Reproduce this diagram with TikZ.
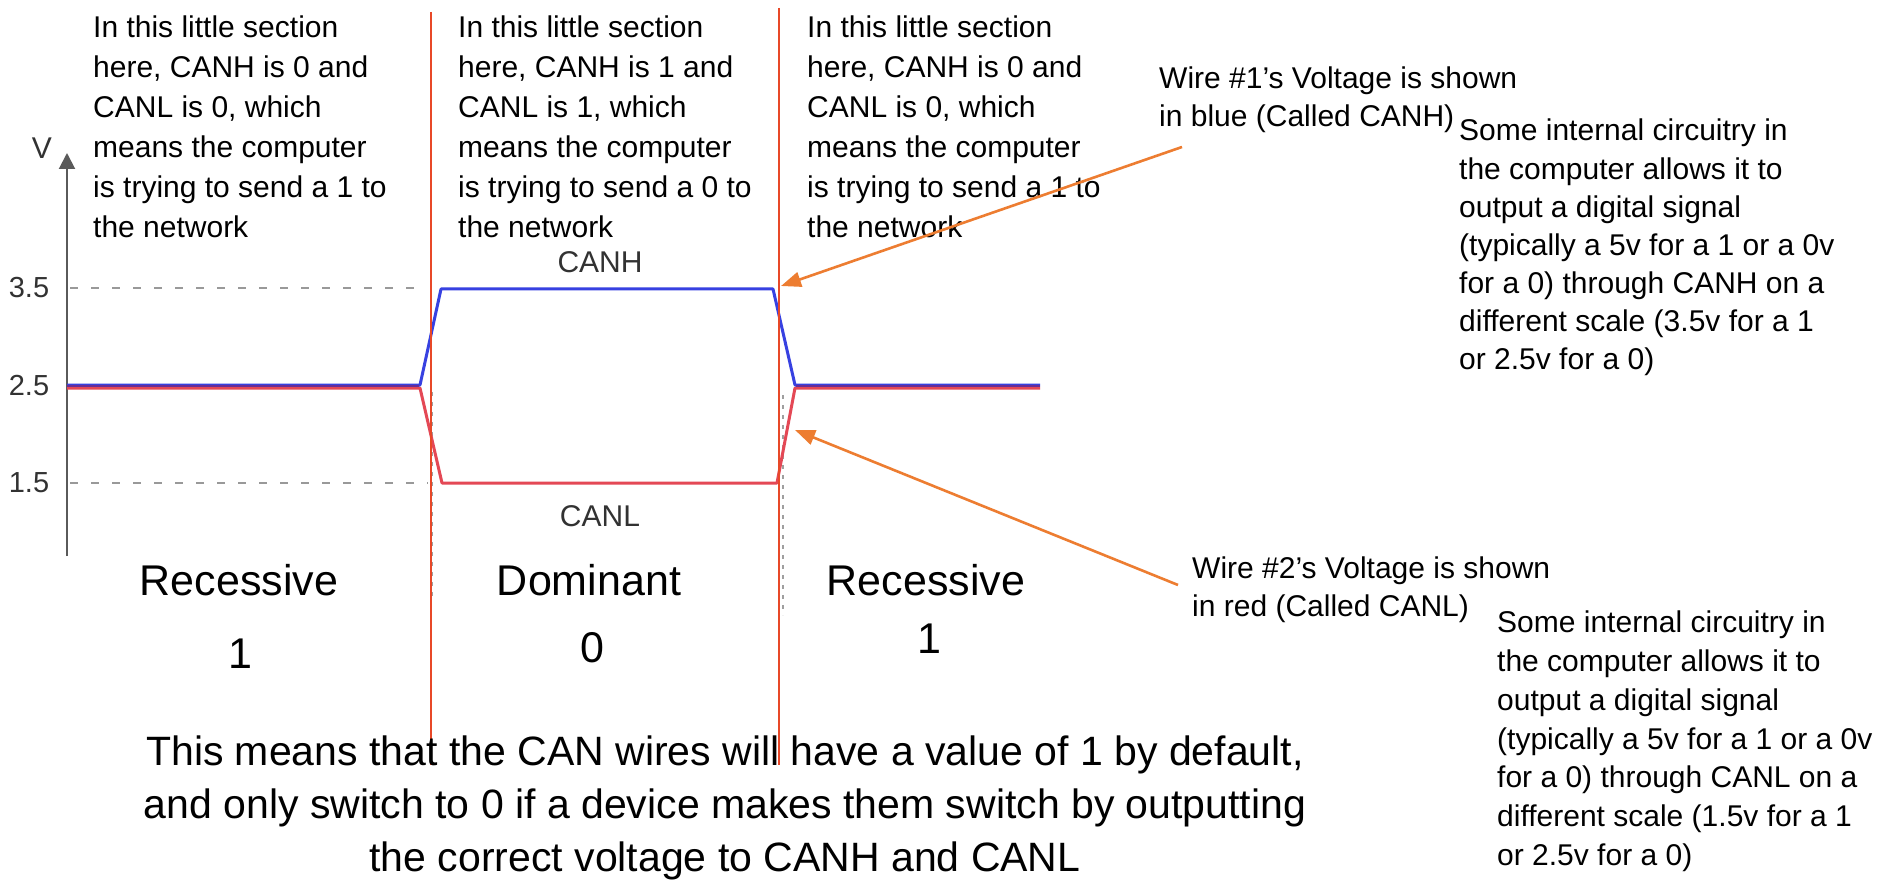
\documentclass[tikz,border=0pt]{standalone}
\usepackage{fontspec}
\setmainfont{Liberation Sans}
\usetikzlibrary{arrows.meta}
\definecolor{bluew}{RGB}{55,65,225}
\definecolor{redw}{RGB}{228,72,85}
\definecolor{mixw}{RGB}{105,45,150}
\definecolor{divline}{RGB}{232,72,40}
\definecolor{callout}{RGB}{237,125,49}
\definecolor{axisgray}{RGB}{90,90,90}
\definecolor{labgray}{RGB}{50,50,50}
\tikzset{
  txt/.style={inner sep=0pt, anchor=north west, align=left, text=black},
  small/.style={font=\fontsize{30}{40}\selectfont},
  big/.style={inner sep=0pt, anchor=base, font=\fontsize{43}{50}\selectfont},
  wave/.style={line width=3pt, line join=round},
  divider/.style={draw=divline, line width=2.2pt},
  calloutarrow/.style={draw=callout, line width=2.6pt, -{Triangle[length=20pt,width=15pt]}},
  guide/.style={draw=gray!80, line width=2pt, dash pattern=on 8pt off 13pt},
  vguide/.style={draw=gray!75, line width=2.5pt, dash pattern=on 4pt off 6pt},
  ticklab/.style={inner sep=0pt, text=labgray, font=\fontsize{29}{30}\selectfont},
  sig/.style={inner sep=0pt, text=labgray, font=\fontsize{30}{32}\selectfont}
}
\begin{document}
\begin{tikzpicture}[x=1pt,y=-1pt]
\useasboundingbox (0,0) rectangle (1886,882);
\fill[white] (0,0) rectangle (1886,882);

% axis
\draw[draw=axisgray, line width=2pt, -{Triangle[length=16pt,width=16pt]}] (67,556) -- (67,153);
\node[sig] (vlab) at (42,148) {V};
\node[ticklab] (t35) at (29,288) {3.5};
\node[ticklab] (t25) at (29,386) {2.5};
\node[ticklab] (t15) at (29,483) {1.5};

% guides
\draw[guide] (70,288) -- (420,288);
\draw[guide] (70,483) -- (428,483);
\draw[vguide] (432,392) -- (432,600);
\draw[vguide] (783,395) -- (783,615);

% waveforms
\draw[wave, draw=redw] (67,388) -- (420,388) -- (442,483) -- (777,483) -- (795,388) -- (1040,388);
\draw[wave, draw=bluew] (67,385) -- (420,385) -- (441,289) -- (773,289) -- (795,385) -- (1040,385);
\draw[line width=2.6pt, draw=mixw] (67,386) -- (419,386);
\draw[line width=2.6pt, draw=mixw] (796,386) -- (1040,386);

\node[sig] (canh) at (600,262) {CANH};
\node[sig] (canl) at (600,516) {CANL};

% dividers
\coordinate (d1t) at (431,12);
\coordinate (d1b) at (431,765);
\coordinate (d2t) at (779,8);
\coordinate (d2b) at (779,765);
\draw[divider] (d1t) -- (d1b);
\draw[divider] (d2t) -- (d2b);

% section texts
\node[txt, small] (s1) at (93,16) {In this little section\\here, CANH is 0 and\\CANL is 0, which\\means the computer\\is trying to send a 1 to\\the network};
\node[txt, small] (s2) at (458,16) {In this little section\\here, CANH is 1 and\\CANL is 1, which\\means the computer\\is trying to send a 0 to\\the network};
\node[txt, small] (s3) at (807,16) {In this little section\\here, CANH is 0 and\\CANL is 0, which\\means the computer\\is trying to send a 1 to\\the network};

% wire labels
\node[txt, font=\fontsize{30}{38}\selectfont] (w1) at (1159,67) {Wire \#1’s Voltage is shown\\in blue (Called CANH)};
\node[txt, font=\fontsize{30}{38}\selectfont] (w2) at (1192,556.5) {Wire \#2’s Voltage is shown\\in red (Called CANL)};

\node[txt, font=\fontsize{30}{38.1}\selectfont] (r1) at (1459,119) {Some internal circuitry in\\the computer allows it to\\output a digital signal\\(typically a 5v for a 1 or a 0v\\for a 0) through CANH on a\\different scale (3.5v for a 1\\or 2.5v for a 0)};
\node[txt, font=\fontsize{30}{38.7}\selectfont] (r2) at (1497,611) {Some internal circuitry in\\the computer allows it to\\output a digital signal\\(typically a 5v for a 1 or a 0v\\for a 0) through CANL on a\\different scale (1.5v for a 1\\or 2.5v for a 0)};

% callout arrows
\coordinate (a1s) at (1182,147);
\coordinate (a1e) at (781,286);
\coordinate (a2s) at (1178,585);
\coordinate (a2e) at (795,430);
\draw[calloutarrow] (a1s) -- (a1e);
\draw[calloutarrow] (a2s) -- (a2e);

% state labels
\node[big] (rec1) at (239,595) {Recessive};
\node[big] (one1) at (240,668) {1};
\node[big] (dom) at (589,595) {Dominant};
\node[big] (zero) at (592,662) {0};
\node[big] (rec2) at (926,595) {Recessive};
\node[big] (one2) at (929,653) {1};

% bottom text
\node[inner sep=0pt, anchor=north, align=center, font=\fontsize{41}{53}\selectfont] (bottom) at (725,736) {This means that the CAN wires will have a value of 1 by default,\\and only switch to 0 if a device makes them switch by outputting\\the correct voltage to CANH and CANL};
\end{tikzpicture}
\end{document}
